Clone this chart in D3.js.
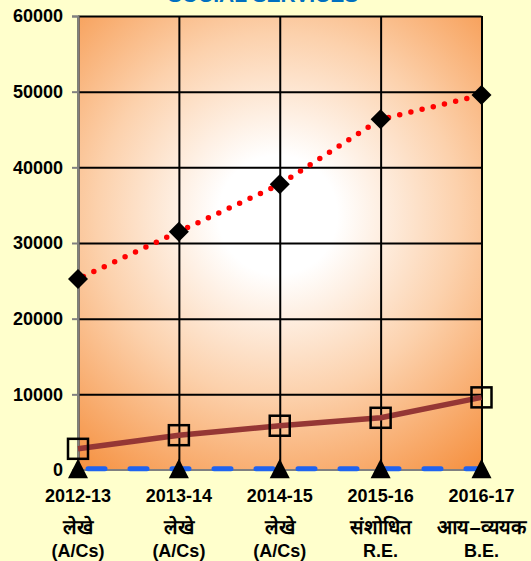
<!DOCTYPE html>
<html>
<head>
<meta charset="utf-8">
<script src="https://cdn.jsdelivr.net/npm/d3@7"></script>
<style>
  html, body { margin: 0; padding: 0; background: #FFFFCC; }
  svg { display: block; }
  text { font-family: "Liberation Sans", Arial, sans-serif; font-weight: bold; }
</style>
</head>
<body>
<svg id="chart" width="531" height="561"></svg>
<script>
// Years and the budget stage printed under each year
const categories = ["2012-13", "2013-14", "2014-15", "2015-16", "2016-17"];
const stageLines1 = ["लेखे", "लेखे", "लेखे", "संशोधित", "आय–व्ययक"];
const stageLines2 = ["(A/Cs)", "(A/Cs)", "(A/Cs)", "R.E.", "B.E."];

// Series values (Rs. crore)
const totalSeries = [25250, 31500, 37750, 46350, 49550];   // red dotted, diamonds
const capitalSeries = [2800, 4600, 5850, 6900, 9600];      // brown solid, squares
const loansSeries = [150, 150, 150, 150, 150];             // blue dashed, triangles

const yTicks = [0, 10000, 20000, 30000, 40000, 50000, 60000];
const title = "SOCIAL SERVICES";

const svg = d3.select("#chart");
const plot = { left: 78, right: 481.5, top: 16, bottom: 470 };

const x = d3.scalePoint().domain(categories).range([plot.left, plot.right]);
const y = d3.scaleLinear().domain([0, 60000]).range([plot.bottom, plot.top]);

// Background fill of the plot area: white centre fading to orange corners
const defs = svg.append("defs");
const grad = defs.append("radialGradient")
  .attr("id", "plotFill")
  .attr("gradientUnits", "userSpaceOnUse")
  .attr("cx", 278).attr("cy", 215).attr("r", 330);
grad.append("stop").attr("offset", "0").attr("stop-color", "#FFFFFF");
grad.append("stop").attr("offset", "0.18").attr("stop-color", "#FFFFFF");
grad.append("stop").attr("offset", "0.55").attr("stop-color", "#FCD1AC");
grad.append("stop").attr("offset", "1").attr("stop-color", "#F58D3A");

svg.append("rect")
  .attr("x", plot.left).attr("y", plot.top)
  .attr("width", plot.right - plot.left).attr("height", plot.bottom - plot.top)
  .attr("fill", "url(#plotFill)");

// Title (sits partly above the visible area)
svg.append("text")
  .attr("x", 263).attr("y", 2)
  .attr("text-anchor", "middle")
  .attr("font-size", 21)
  .attr("fill", "#0070C0")
  .text(title);

// Horizontal gridlines
svg.append("g")
  .attr("transform", `translate(${plot.left},0)`)
  .call(d3.axisLeft(y).tickValues(yTicks.filter(d => d > 0)).tickSize(-(plot.right - plot.left)).tickFormat(""))
  .call(g => g.select(".domain").remove())
  .call(g => g.selectAll("line").attr("stroke", "#000").attr("stroke-width", 2));

// Vertical gridlines at each year
svg.append("g")
  .attr("transform", `translate(0,${plot.bottom})`)
  .call(d3.axisBottom(x).tickSize(-(plot.bottom - plot.top)).tickFormat(""))
  .call(g => g.select(".domain").remove())
  .call(g => g.selectAll("line").attr("stroke", "#000").attr("stroke-width", 2));

// Value axis
svg.append("g")
  .attr("transform", `translate(${plot.left},0)`)
  .call(d3.axisLeft(y).tickValues(yTicks).tickSize(6).tickPadding(9).tickFormat(d3.format("d")))
  .call(g => g.select(".domain").attr("stroke", "#808080").attr("stroke-width", 2))
  .call(g => g.selectAll(".tick line").attr("stroke", "#808080").attr("stroke-width", 2))
  .call(g => g.selectAll(".tick text")
      .attr("font-size", 18).attr("fill", "#000")
      .attr("font-family", "'Liberation Sans', Arial, sans-serif")
      .attr("font-weight", "bold"));

// Category axis line
svg.append("line")
  .attr("x1", plot.left).attr("x2", plot.right)
  .attr("y1", plot.bottom).attr("y2", plot.bottom)
  .attr("stroke", "#808080").attr("stroke-width", 2);

// Category labels: year, then stage in Hindi and English
const labels = svg.append("g").attr("fill", "#000").attr("text-anchor", "middle");
categories.forEach((c, i) => {
  labels.append("text").attr("x", x(c)).attr("y", 502).attr("font-size", 18).text(c);
  labels.append("text").attr("x", x(c)).attr("y", 534).attr("font-size", 20).text(stageLines1[i]);
  labels.append("text").attr("x", x(c)).attr("y", 557).attr("font-size", 18).text(stageLines2[i]);
});

const line = d3.line().x((d, i) => x(categories[i])).y(d => y(d));

// Blue dashed series
svg.append("path").datum(loansSeries)
  .attr("d", line).attr("fill", "none")
  .attr("stroke", "#1F63F0").attr("stroke-width", 5)
  .attr("stroke-linecap", "round")
  .attr("stroke-dasharray", "17 25")
  .attr("stroke-dashoffset", -10);

// Brown solid series
svg.append("path").datum(capitalSeries)
  .attr("d", line).attr("fill", "none")
  .attr("stroke", "#953735").attr("stroke-width", 5.5)
  .attr("stroke-linejoin", "round");

// Red dotted series
svg.append("path").datum(totalSeries)
  .attr("d", line).attr("fill", "none")
  .attr("stroke", "#FF0000").attr("stroke-width", 5.5)
  .attr("stroke-linecap", "round")
  .attr("stroke-dasharray", "0 11.5")
  .attr("stroke-dashoffset", -6);

// Markers
const diamond = d3.symbol().type(d3.symbolSquare).size(200);
svg.append("g").selectAll("path").data(totalSeries).join("path")
  .attr("transform", (d, i) => `translate(${x(categories[i])},${y(d)}) rotate(45)`)
  .attr("d", diamond()).attr("fill", "#000");

svg.append("g").selectAll("rect").data(capitalSeries).join("rect")
  .attr("x", (d, i) => x(categories[i]) - 10).attr("y", d => y(d) - 10)
  .attr("width", 20).attr("height", 20)
  .attr("fill", "none").attr("stroke", "#000").attr("stroke-width", 2.5);

const tri = "M0,-10L10,9.5L-10,9.5Z";
svg.append("g").selectAll("path").data(loansSeries).join("path")
  .attr("transform", (d, i) => `translate(${x(categories[i])},${y(d)})`)
  .attr("d", tri).attr("fill", "#000");
</script>
</body>
</html>
